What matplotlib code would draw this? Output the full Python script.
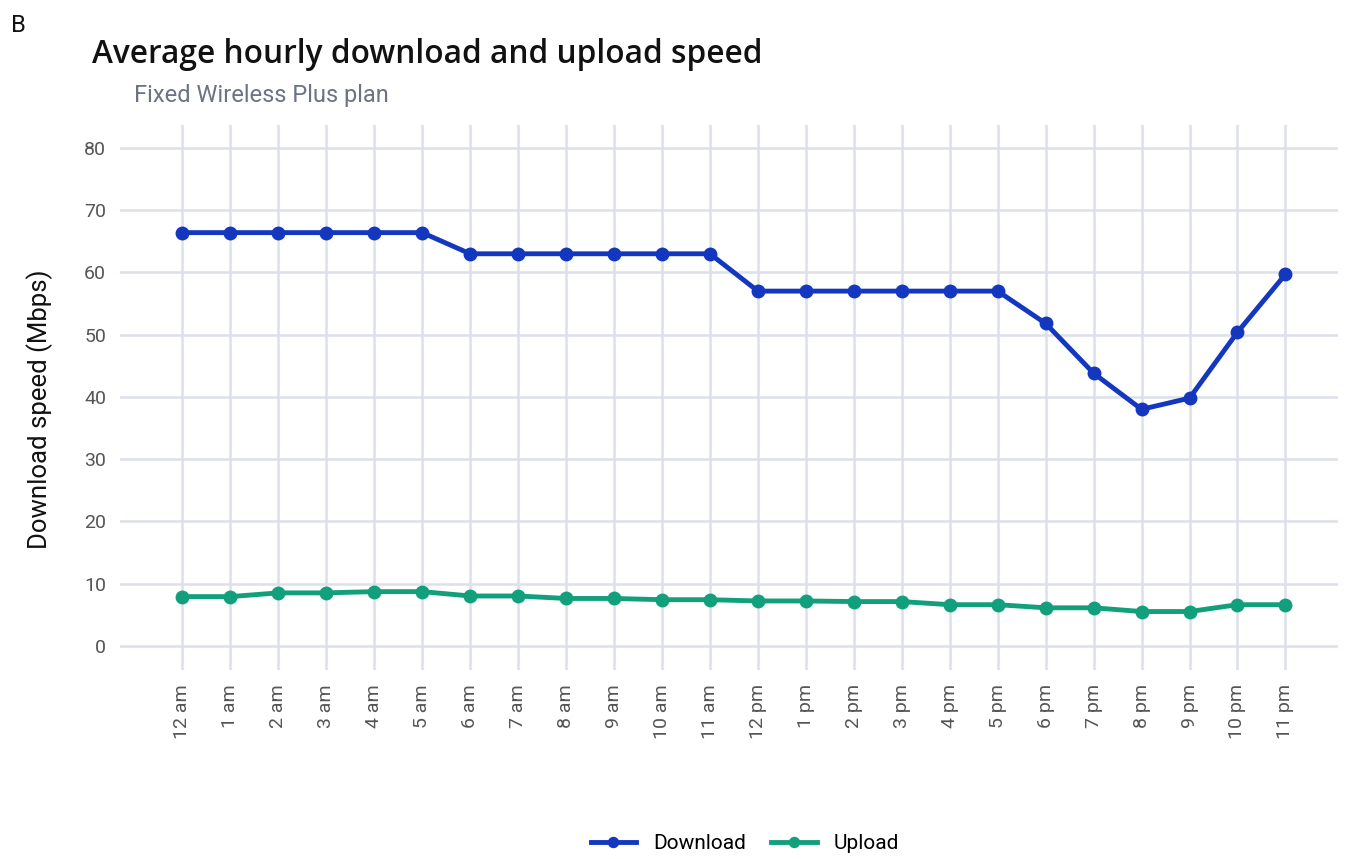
import matplotlib
matplotlib.use("Agg")
import matplotlib.pyplot as plt

hours = ["12 am", "1 am", "2 am", "3 am", "4 am", "5 am", "6 am", "7 am", "8 am", "9 am",
         "10 am", "11 am", "12 pm", "1 pm", "2 pm", "3 pm", "4 pm", "5 pm", "6 pm", "7 pm",
         "8 pm", "9 pm", "10 pm", "11 pm"]
download = [66.4, 66.4, 66.4, 66.4, 66.4, 66.4, 63.0, 63.0, 63.0, 63.0, 63.0, 63.0,
            57.0, 57.0, 57.0, 57.0, 57.0, 57.0, 51.8, 43.8, 38.0, 39.8, 50.4, 59.7]
upload = [7.9, 7.9, 8.5, 8.5, 8.7, 8.7, 8.0, 8.0, 7.6, 7.6, 7.4, 7.4,
          7.2, 7.2, 7.1, 7.1, 6.6, 6.6, 6.1, 6.1, 5.5, 5.5, 6.6, 6.6]
yticks = [0, 10, 20, 30, 40, 50, 60, 70, 80]

plt.rcParams["font.family"] = ["Roboto", "DejaVu Sans"]

fig = plt.figure(figsize=(13.49, 8.59), dpi=100)
ax = fig.add_axes([0.089, 0.22, 0.903, 0.6345])

x = list(range(len(hours)))
ax.plot(x, download, color="#1437bf", lw=3.5, marker="o", ms=9, label="Download", zorder=3)
ax.plot(x, upload, color="#12a07c", lw=3.5, marker="o", ms=9, label="Upload", zorder=3)

ax.set_xlim(-1.3, 24.1)
ax.set_ylim(-3.9, 83.7)
ax.set_xticks(x)
ax.set_xticklabels(hours, rotation=90, fontsize=14, color="#555555")
ax.set_yticks(yticks)
ax.set_yticklabels([str(v) for v in yticks], fontsize=14, color="#555555")
ax.tick_params(length=0, pad=10)
ax.grid(True, color="#dde0ea", lw=1.8)
ax.set_axisbelow(True)
for s in ax.spines.values():
    s.set_visible(False)

ax.set_ylabel("Download speed (Mbps)", fontsize=18.5, color="#111111", va="center")
ax.yaxis.set_label_coords(-0.066, 0.479)

fig.text(0.008, 0.97, "B", fontsize=17, color="#111111", va="center")
fig.text(0.068, 0.936, "Average hourly download and upload speed", fontsize=22.8,
         fontweight="semibold", color="#111111", va="center", family=["Open Sans", "DejaVu Sans"])
fig.text(0.099, 0.889, "Fixed Wireless Plus plan", fontsize=17, color="#6b7384", va="center")

fig.legend(loc="center", bbox_to_anchor=(0.552, 0.018), ncol=2, frameon=False,
           fontsize=15, handlelength=2.2, columnspacing=1.2, markerscale=0.8)

fig.savefig("out.png", dpi=100)
